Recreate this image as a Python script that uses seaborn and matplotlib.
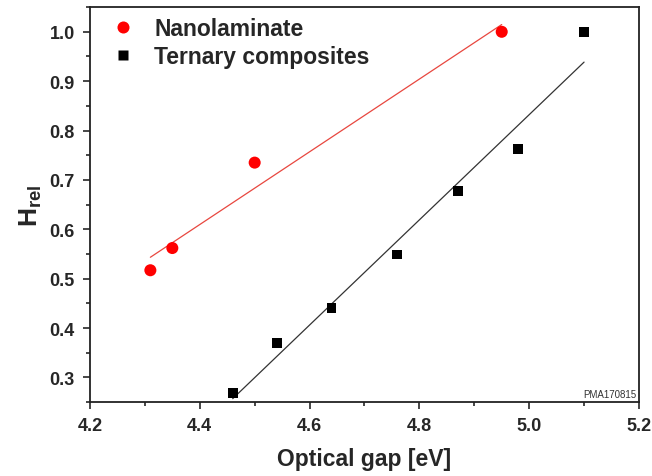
import numpy as np
import pandas as pd
import matplotlib as mpl
mpl.use("Agg")
import matplotlib.pyplot as plt
import seaborn as sns
from matplotlib.ticker import MultipleLocator

# data
nano_gap = [4.31, 4.35, 4.50, 4.95]
nano_h = [0.517, 0.562, 0.735, 1.000]
tern_gap = [4.46, 4.54, 4.64, 4.76, 4.87, 4.98, 5.10]
tern_h = [0.268, 0.370, 0.440, 0.549, 0.678, 0.762, 1.000]
series = ["Nanolaminate", "Ternary composites"]

sns.set_style("ticks")
plt.rcParams['font.family'] = ['Liberation Sans', 'DejaVu Sans']
plt.rcParams['mathtext.fontset'] = 'custom'
plt.rcParams['mathtext.rm'] = 'Liberation Sans'
plt.rcParams['mathtext.bf'] = 'Liberation Sans:bold'

df = pd.DataFrame({
    "gap": nano_gap + tern_gap,
    "h": nano_h + tern_h,
    "kind": [series[0]] * len(nano_gap) + [series[1]] * len(tern_gap),
})

fig = plt.figure(figsize=(6.52, 4.77), dpi=100)
ax = fig.add_axes([0.138, 0.155, 0.842, 0.828])

# linear fits over each data range
sns.regplot(x=nano_gap, y=nano_h, scatter=False, ci=None, truncate=True,
            color="#e8473f", line_kws={"lw": 0.9}, ax=ax)
sns.regplot(x=tern_gap, y=tern_h, scatter=False, ci=None, truncate=True,
            color="#333333", line_kws={"lw": 0.9}, ax=ax)

sns.scatterplot(data=df, x="gap", y="h", hue="kind", style="kind",
                palette={series[0]: "#ff0000", series[1]: "black"},
                markers={series[0]: "o", series[1]: "s"},
                size="kind", sizes={series[0]: 75, series[1]: 50},
                edgecolor="none", ax=ax, zorder=3)

ax.set_xlim(4.2, 5.2)
ax.set_ylim(0.25, 1.05)
ax.xaxis.set_major_locator(MultipleLocator(0.2))
ax.xaxis.set_minor_locator(MultipleLocator(0.1))
ax.yaxis.set_major_locator(MultipleLocator(0.1))
ax.yaxis.set_minor_locator(MultipleLocator(0.05))
ax.tick_params(which="major", length=5, width=1.2, direction="out", pad=6)
ax.tick_params(which="minor", length=3, width=1.2, direction="out")
for lab in ax.get_xticklabels() + ax.get_yticklabels():
    lab.set_fontweight("bold")
    lab.set_fontsize(13)
for sp in ax.spines.values():
    sp.set_linewidth(1.3)
    sp.set_color("#222222")

ax.set_xlabel("Optical gap [eV]", fontsize=16.5, fontweight="bold", labelpad=9)
ax.set_ylabel(r"$\mathbf{H_{rel}}$", fontsize=19, labelpad=4)

h, l = ax.get_legend_handles_labels()
ax.legend(h, l, loc="upper left", frameon=False,
          prop={"weight": "bold", "size": 16.5}, handletextpad=0.35,
          borderaxespad=0.05, labelspacing=0.2, markerscale=1.0)

ax.text(0.995, 0.008, "PMA170815", transform=ax.transAxes, ha="right",
        va="bottom", fontsize=7, color="#333333")

fig.savefig("out.png", dpi=100)
